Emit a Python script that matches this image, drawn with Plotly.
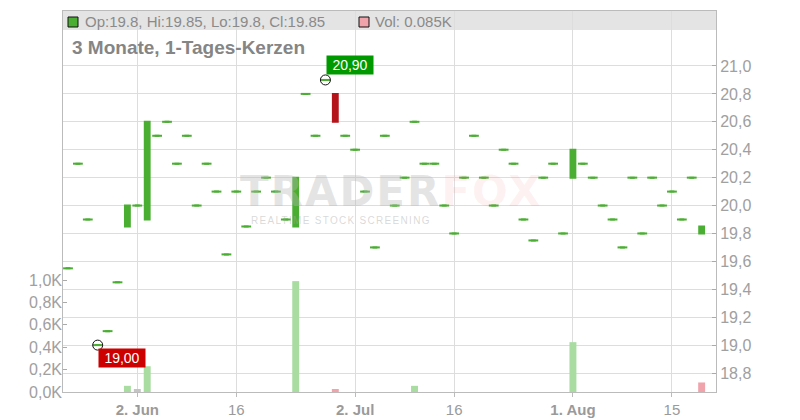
import plotly.graph_objects as go

dates = [
    "2025-05-22", "2025-05-23", "2025-05-26", "2025-05-27", "2025-05-28", "2025-05-29", "2025-05-30",
    "2025-06-02", "2025-06-03", "2025-06-04", "2025-06-05", "2025-06-06",
    "2025-06-09", "2025-06-10", "2025-06-11", "2025-06-12", "2025-06-13",
    "2025-06-16", "2025-06-17", "2025-06-18", "2025-06-19", "2025-06-20",
    "2025-06-23", "2025-06-24", "2025-06-25", "2025-06-26", "2025-06-27",
    "2025-06-30", "2025-07-01", "2025-07-02", "2025-07-03", "2025-07-04",
    "2025-07-07", "2025-07-08", "2025-07-09", "2025-07-10", "2025-07-11",
    "2025-07-14", "2025-07-15", "2025-07-16", "2025-07-17", "2025-07-18",
    "2025-07-21", "2025-07-22", "2025-07-23", "2025-07-24", "2025-07-25",
    "2025-07-28", "2025-07-29", "2025-07-30", "2025-07-31", "2025-08-01",
    "2025-08-04", "2025-08-05", "2025-08-06", "2025-08-07", "2025-08-08",
    "2025-08-11", "2025-08-12", "2025-08-13", "2025-08-14", "2025-08-15",
    "2025-08-18", "2025-08-19", "2025-08-20",
]

opens = [
    19.55, 20.3, 19.9, 19.0, 19.1, 19.45, 19.85,
    20.0, 19.9, 20.5, 20.6, 20.3,
    20.5, 20.0, 20.3, 20.1, 19.65,
    20.1, 19.85, 20.1, 20.2, 20.1,
    19.9, 19.85, 20.8, 20.5, 20.9,
    20.8, 20.5, 20.4, 20.1, 19.7,
    20.5, 20.0, 20.2, 20.6, 20.3,
    20.3, 20.0, 19.8, 20.2, 20.5,
    20.2, 20.0, 20.4, 20.3, 19.9,
    19.75, 20.2, 20.3, 19.8, 20.2,
    20.3, 20.2, 20.0, 19.9, 19.7,
    20.2, 19.8, 20.2, 20.0, 20.1,
    19.9, 20.2, 19.8,
]

closes = [
    19.55, 20.3, 19.9, 19.0, 19.1, 19.45, 20.0,
    20.0, 20.6, 20.5, 20.6, 20.3,
    20.5, 20.0, 20.3, 20.1, 19.65,
    20.1, 19.85, 20.1, 20.2, 20.1,
    19.9, 20.2, 20.8, 20.5, 20.9,
    20.6, 20.5, 20.4, 20.1, 19.7,
    20.5, 20.0, 20.2, 20.6, 20.3,
    20.3, 20.0, 19.8, 20.2, 20.5,
    20.2, 20.0, 20.4, 20.3, 19.9,
    19.75, 20.2, 20.3, 19.8, 20.4,
    20.3, 20.2, 20.0, 19.9, 19.7,
    20.2, 19.8, 20.2, 20.0, 20.1,
    19.9, 20.2, 19.85,
]

volumes_k = [
    0, 0, 0, 0, 0, 0, 0.055,
    0.027, 0.23, 0, 0, 0,
    0, 0, 0, 0, 0,
    0, 0, 0, 0, 0,
    0, 0.99, 0, 0, 0,
    0.027, 0, 0, 0, 0,
    0, 0, 0, 0.055, 0,
    0, 0, 0, 0, 0,
    0, 0, 0, 0, 0,
    0, 0, 0, 0, 0.445,
    0, 0, 0, 0, 0,
    0, 0, 0, 0, 0,
    0, 0, 0.085,
]

tick_dates = ["2025-06-02", "2025-06-16", "2025-07-02", "2025-07-16", "2025-08-01", "2025-08-15"]
tick_text = ["<b>2. Jun</b>", "16", "<b>2. Jul</b>", "16", "<b>1. Aug</b>", "15"]
price_ticks = [18.8, 19.0, 19.2, 19.4, 19.6, 19.8, 20.0, 20.2, 20.4, 20.6, 20.8, 21.0]
price_text = ["18,8", "19,0", "19,2", "19,4", "19,6", "19,8", "20,0", "20,2", "20,4", "20,6", "20,8", "21,0"]
vol_ticks = [0, 0.2, 0.4, 0.6, 0.8, 1.0]
vol_text = ["0,0K", "0,2K", "0,4K", "0,6K", "0,8K", "1,0K"]

high_idx, high_val, high_label = 26, 20.9, "20,90"
low_idx, low_val, low_label = 3, 19.0, "19,00"
title_text = "3 Monate, 1-Tages-Kerzen"
legend_ohlc = "Op:19.8, Hi:19.85, Lo:19.8, Cl:19.85"
legend_vol = "Vol: 0.085K"

GREEN = "#4aae32"
RED = "#b5141b"
FONT = "Liberation Sans"

# figure geometry (pixels)
W, H = 800, 420
L, R, T, B = 63, 84, 11, 28
PW, PH = W - L - R, H - T - B


def px_x(x):
    return (x - L) / PW


def px_y(y):
    return (H - B - y) / PH


is_red = [c < o for o, c in zip(opens, closes)]
is_flat = [c == o for o, c in zip(opens, closes)]
highs = [max(o, c) for o, c in zip(opens, closes)]
lows = [min(o, c) for o, c in zip(opens, closes)]


def pick(vals, mask):
    return [v if m else None for v, m in zip(vals, mask)]


green_mask = [not r for r in is_red]

fig = go.Figure()

# volume colours: compare with previous close
vol_colors = []
for i, c in enumerate(closes):
    prev = closes[i - 1] if i > 0 else c
    if c > prev:
        vol_colors.append("#a9dca1")
    elif c < prev:
        vol_colors.append("#f0a3ab")
    else:
        vol_colors.append("#c4c4c4")

fig.add_trace(go.Bar(
    x=dates, y=volumes_k, marker=dict(color=vol_colors, line=dict(width=0)),
    width=0.7, yaxis="y2", hoverinfo="skip", showlegend=False,
))

fig.add_trace(go.Candlestick(
    x=dates,
    open=pick(opens, green_mask), high=pick(highs, green_mask),
    low=pick(lows, green_mask), close=pick(closes, green_mask),
    increasing=dict(line=dict(color=GREEN, width=2), fillcolor=GREEN),
    decreasing=dict(line=dict(color=GREEN, width=2), fillcolor=GREEN),
    whiskerwidth=0, showlegend=False, hoverinfo="skip",
))
fig.add_trace(go.Candlestick(
    x=dates,
    open=pick(opens, is_red), high=pick(highs, is_red),
    low=pick(lows, is_red), close=pick(closes, is_red),
    increasing=dict(line=dict(color=RED, width=2), fillcolor=RED),
    decreasing=dict(line=dict(color=RED, width=2), fillcolor=RED),
    whiskerwidth=0, showlegend=False, hoverinfo="skip",
))

# flat days (open == close) drawn as short horizontal dashes
fig.add_trace(go.Scatter(
    x=dates, y=pick(closes, is_flat), mode="markers",
    marker=dict(symbol="line-ew", size=7, color=GREEN, line=dict(width=2, color=GREEN)),
    showlegend=False, hoverinfo="skip",
))

fig.add_trace(go.Scatter(
    x=[dates[high_idx], dates[low_idx]], y=[high_val, low_val], mode="markers",
    marker=dict(symbol="circle-open", size=10, color="#111111", line=dict(width=1)),
    showlegend=False, hoverinfo="skip",
))

shapes = [
    dict(type="rect", xref="paper", yref="paper", x0=0, x1=1, y0=px_y(30), y1=1,
         fillcolor="#e4e4e4", line=dict(width=0), layer="below"),
    dict(type="rect", xref="paper", yref="paper", x0=px_x(68), x1=px_x(78), y0=px_y(27), y1=px_y(17),
         fillcolor=GREEN, line=dict(width=1, color="#111111"), layer="above"),
    dict(type="rect", xref="paper", yref="paper", x0=px_x(359), x1=px_x(369), y0=px_y(27), y1=px_y(17),
         fillcolor="#f0a3ab", line=dict(width=1, color="#111111"), layer="above"),
]

annotations = [
    dict(xref="paper", yref="paper", x=px_x(83), y=px_y(21.5), xanchor="left", yanchor="middle",
         text=legend_ohlc, showarrow=False, font=dict(family=FONT, size=15, color="#8a8a8a")),
    dict(xref="paper", yref="paper", x=px_x(373), y=px_y(21.5), xanchor="left", yanchor="middle",
         text=legend_vol, showarrow=False, font=dict(family=FONT, size=15, color="#8a8a8a")),
    dict(xref="paper", yref="paper", x=px_x(70), y=px_y(47.5), xanchor="left", yanchor="middle",
         text="<b>" + title_text + "</b>", showarrow=False, font=dict(family=FONT, size=19, color="#858585")),
    dict(xref="paper", yref="paper", x=px_x(238), y=px_y(191), xanchor="left", yanchor="middle",
         text="<b><span style='letter-spacing:2px'>TRADER<span style='color:rgba(240,110,122,0.26)'>FOX</span></span></b>",
         showarrow=False,
         font=dict(family="DejaVu Sans", size=42, color="rgba(185,185,185,0.38)")),
    dict(xref="paper", yref="paper", x=px_x(249), y=px_y(220), xanchor="left", yanchor="middle",
         text="<span style='letter-spacing:1.3px'>REALTIME STOCK SCREENING</span>", showarrow=False,
         font=dict(family=FONT, size=10, color="rgba(170,170,170,0.45)")),
    dict(x=dates[high_idx], y=high_val, xref="x", yref="y", xshift=25, yshift=14.5,
         text=high_label, showarrow=False, bgcolor="#009a00", width=44, height=16,
         font=dict(family=FONT, size=14, color="white")),
    dict(x=dates[low_idx], y=low_val, xref="x", yref="y", xshift=24.5, yshift=-13,
         text=low_label, showarrow=False, bgcolor="#cc0000", width=44, height=16,
         font=dict(family=FONT, size=14, color="white")),
]

fig.update_layout(
    width=W, height=H,
    margin=dict(l=L, r=R, t=T, b=B, pad=0, autoexpand=False),
    paper_bgcolor="white", plot_bgcolor="white",
    font=dict(family=FONT, size=15, color="#a0a0a0"),
    showlegend=False,
    shapes=shapes, annotations=annotations,
    xaxis=dict(
        type="category", range=[-0.505, 65.45], rangeslider=dict(visible=False),
        tickmode="array", tickvals=tick_dates, ticktext=tick_text, automargin=False,
        showgrid=True, gridcolor="#dddddd", gridwidth=1,
        showline=True, linecolor="#bbbbbb", linewidth=1, mirror=True,
        ticks="outside", ticklen=4, tickcolor="#bbbbbb",
        tickfont=dict(family=FONT, size=15, color="#9a9a9a"), zeroline=False,
    ),
    yaxis=dict(
        side="right", range=[18.664, 21.394], tickmode="array", automargin=False,
        tickvals=price_ticks, ticktext=price_text,
        showgrid=True, gridcolor="#dddddd", gridwidth=1,
        showline=True, linecolor="#bbbbbb", linewidth=1, mirror=True,
        ticks="inside", ticklen=4, tickcolor="#aaaaaa",
        tickfont=dict(family=FONT, size=16, color="#a0a0a0"), zeroline=False,
    ),
    yaxis2=dict(
        overlaying="y", side="left", range=[0, 3.402], tickmode="array", automargin=False,
        tickvals=vol_ticks, ticktext=vol_text, showgrid=False, zeroline=False,
        ticks="inside", ticklen=4, tickcolor="#aaaaaa", showline=False,
        tickfont=dict(family=FONT, size=16, color="#a0a0a0"),
    ),
)

fig.write_html(
    "out.html",
    config={"displayModeBar": False},
    post_script="document.body.style.margin='0';document.body.style.overflow='hidden';",
)
